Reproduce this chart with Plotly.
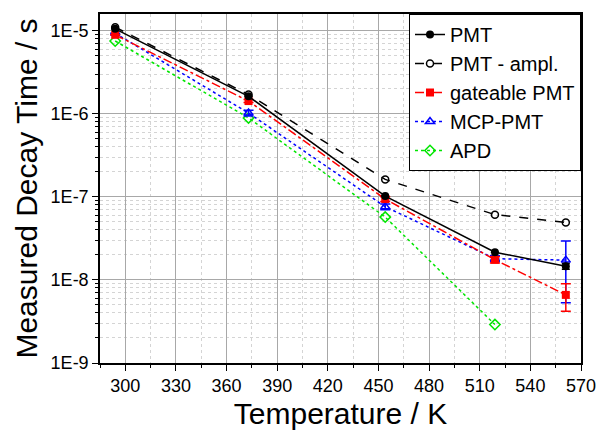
import plotly.graph_objects as go

temps = [294, 373, 454, 519, 561]
temps_apd = [294, 373, 454, 519]

pmt = [1.05e-5, 1.62e-6, 1.02e-7, 2.15e-8, 1.46e-8]
pmt_err = [0, 0, 0, 0, 1.2e-9]
pmt_ampl = [1.1e-5, 1.7e-6, 1.62e-7, 6.1e-8, 4.9e-8]
gateable = [8.9e-6, 1.42e-6, 9.4e-8, 1.75e-8, 6.6e-9]
gateable_err = [0, 6e-8, 6e-9, 1.5e-9, 2.4e-9]
mcp = [9.3e-6, 1.02e-6, 7.6e-8, 1.8e-8, 1.73e-8]
mcp_err = [0, 8e-8, 6e-9, 1.5e-9, 1.2e-8]
apd = [7.5e-6, 8.9e-7, 5.7e-8, 2.9e-9]

x_ticks = [300, 330, 360, 390, 420, 450, 480, 510, 540, 570]
x_minor = [285, 315, 345, 375, 405, 435, 465, 495, 525, 555]
y_ticks = [1e-9, 1e-8, 1e-7, 1e-6, 1e-5]
y_labels = ["1E-9", "1E-8", "1E-7", "1E-6", "1E-5"]
y_minor = [m * d for d in [1e-9, 1e-8, 1e-7, 1e-6, 1e-5] for m in range(2, 10) if m * d < 1.6e-5]

FONT = "Liberation Sans, Arial, sans-serif"

fig = go.Figure()
fig.add_trace(go.Scatter(
    x=temps_apd, y=apd, name="APD", mode="lines+markers",
    line=dict(color="#00e600", dash="dot", width=1.5),
    marker=dict(symbol="diamond-open", size=8, color="#00e600", line=dict(width=1.5)),
    legendrank=5))
fig.add_trace(go.Scatter(
    x=temps, y=mcp, name="MCP-PMT", mode="lines+markers",
    line=dict(color="#0000ff", dash="dot", width=1.5),
    marker=dict(symbol="triangle-up-open", size=8, color="#0000ff", line=dict(width=1.5)),
    error_y=dict(type="data", array=mcp_err, color="#0000ff", thickness=1.5, width=5),
    legendrank=4))
fig.add_trace(go.Scatter(
    x=temps, y=gateable, name="gateable PMT", mode="lines+markers",
    line=dict(color="#ff0000", dash="dashdot", width=1.5),
    marker=dict(symbol="square", size=8, color="#ff0000"),
    error_y=dict(type="data", array=gateable_err, color="#ff0000", thickness=1.5, width=5),
    legendrank=3))
fig.add_trace(go.Scatter(
    x=temps, y=pmt_ampl, name="PMT - ampl.", mode="lines+markers",
    line=dict(color="#000000", dash="dash", width=1.5),
    marker=dict(symbol="circle-open", size=7, color="#000000", line=dict(width=1.5)),
    legendrank=2))
fig.add_trace(go.Scatter(
    x=temps, y=pmt, name="PMT", mode="lines+markers",
    line=dict(color="#000000", width=1.5),
    marker=dict(symbol="circle", size=8, color="#000000"),
    error_y=dict(type="data", array=pmt_err, color="#000000", thickness=1.5, width=4),
    legendrank=1))

fig.update_layout(
    width=608, height=437,
    margin=dict(l=100, r=17, t=12, b=74),
    paper_bgcolor="white", plot_bgcolor="white",
    font=dict(family=FONT, color="black"),
    showlegend=True,
    legend=dict(
        x=1, y=1, xanchor="right", yanchor="top",
        bgcolor="white", bordercolor="black", borderwidth=1,
        font=dict(size=20, family=FONT),
        tracegroupgap=0, itemwidth=30,
    ),
)

fig.update_xaxes(
    range=[285, 570],
    tickmode="array", tickvals=x_ticks,
    ticks="outside", ticklen=6, tickwidth=1.2, tickcolor="black",
    tickfont=dict(size=18, family=FONT),
    showline=True, linecolor="black", linewidth=1.5, mirror=True,
    showgrid=True, gridcolor="#a8a8a8", gridwidth=1,
    minor=dict(tickmode="array", tickvals=x_minor, ticks="outside", ticklen=3,
               tickcolor="black", showgrid=True, gridcolor="#d4d4d4", griddash="dot"),
    title=dict(text="Temperature / K", font=dict(size=30, family=FONT), standoff=8),
    zeroline=False,
)
fig.update_yaxes(
    type="log", range=[-9, -4.8],
    tickmode="array", tickvals=y_ticks, ticktext=y_labels,
    ticks="outside", ticklen=6, tickwidth=1.2, tickcolor="black",
    tickfont=dict(size=18, family=FONT),
    showline=True, linecolor="black", linewidth=1.5, mirror=True,
    showgrid=True, gridcolor="#a8a8a8", gridwidth=1,
    minor=dict(tickmode="array", tickvals=y_minor, ticks="outside", ticklen=3,
               tickcolor="black", showgrid=True, gridcolor="#d4d4d4", griddash="dot"),
    title=dict(text="Measured Decay Time / s", font=dict(size=30, family=FONT), standoff=4),
    zeroline=False,
)

fig.write_html("out.html")
